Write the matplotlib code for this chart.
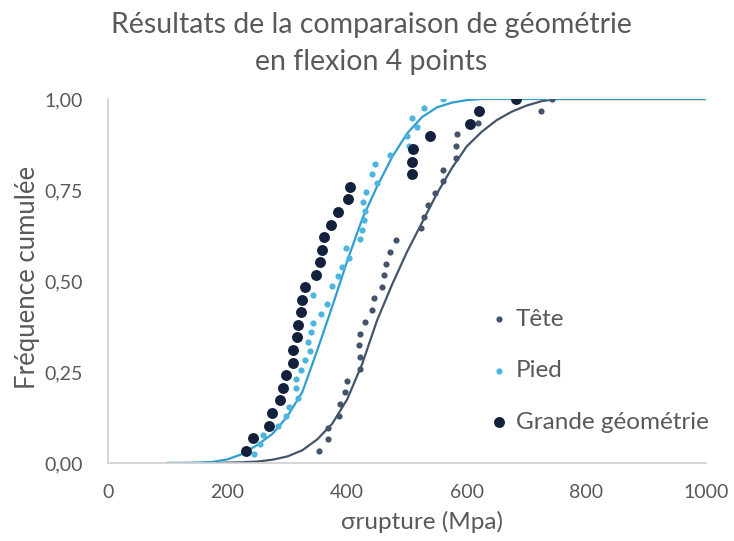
import matplotlib
matplotlib.use("Agg")
import matplotlib.pyplot as plt
from matplotlib.ticker import FuncFormatter

# --- data ---
# scatter points: rupture stress (MPa) vs cumulative frequency
tete_sigma = [353, 368, 368, 386, 388, 397, 400, 421, 421, 420, 422, 429, 441,
              445, 458, 461, 465, 471, 482, 523, 529, 535, 547, 561, 561, 582,
              582, 584, 618, 724, 742]
tete_freq = [0.032, 0.065, 0.097, 0.129, 0.161, 0.194, 0.226, 0.258, 0.290,
             0.323, 0.355, 0.387, 0.419, 0.452, 0.484, 0.516, 0.548, 0.581,
             0.613, 0.645, 0.677, 0.710, 0.742, 0.774, 0.806, 0.839, 0.871,
             0.903, 0.935, 0.968, 1.000]

pied_sigma = [244, 254, 260, 284, 297, 302, 318, 315, 315, 322, 329, 337, 334,
              340, 342, 356, 366, 343, 375, 384, 392, 403, 398, 421, 425, 428,
              429, 427, 432, 450, 441, 447, 471, 503, 500, 516, 509, 529, 561]
pied_freq = [0.026, 0.051, 0.077, 0.103, 0.128, 0.154, 0.179, 0.205, 0.231,
             0.256, 0.282, 0.308, 0.333, 0.359, 0.385, 0.410, 0.436, 0.462,
             0.487, 0.513, 0.538, 0.564, 0.590, 0.615, 0.641, 0.667, 0.692,
             0.718, 0.744, 0.769, 0.795, 0.821, 0.846, 0.872, 0.897, 0.923,
             0.949, 0.974, 1.000]

grande_sigma = [231, 243, 270, 275, 287, 292, 298, 309, 309, 316, 318, 323,
                324, 330, 348, 354, 358, 362, 373, 384, 401, 404, 508, 508,
                510, 538, 605, 620, 682]
grande_freq = [0.034, 0.069, 0.103, 0.138, 0.172, 0.207, 0.241, 0.276, 0.310,
               0.345, 0.379, 0.414, 0.448, 0.483, 0.517, 0.552, 0.586, 0.621,
               0.655, 0.690, 0.724, 0.759, 0.793, 0.828, 0.862, 0.897, 0.931,
               0.966, 1.000]

# fitted curves (read at 25 MPa steps)
pied_fit_sigma = [100, 125, 150, 175, 200, 225, 250, 275, 300, 325, 350, 375,
                  400, 425, 450, 475, 500, 525, 550, 575, 600, 625, 1000]
pied_fit_freq = [0.000, 0.000, 0.001, 0.003, 0.010, 0.025, 0.050, 0.080, 0.128,
                 0.195, 0.310, 0.430, 0.555, 0.670, 0.760, 0.840, 0.905, 0.950,
                 0.977, 0.990, 0.997, 1.000, 1.000]

tete_fit_sigma = [100, 125, 150, 175, 200, 225, 250, 275, 300, 325, 350, 375,
                  400, 425, 450, 475, 500, 525, 550, 575, 600, 625, 650, 675,
                  700, 725, 750, 1000]
tete_fit_freq = [0.000, 0.000, 0.000, 0.000, 0.001, 0.002, 0.004, 0.009, 0.018,
                 0.035, 0.065, 0.108, 0.175, 0.272, 0.392, 0.490, 0.580, 0.660,
                 0.740, 0.810, 0.870, 0.910, 0.942, 0.965, 0.982, 0.994, 1.000,
                 1.000]

x_ticks = [0, 200, 400, 600, 800, 1000]
y_ticks = [0.0, 0.25, 0.5, 0.75, 1.0]

# --- style ---
FONT = "Lato"
TEXT_GREY = "#595959"
TETE_COLOR = "#44546A"
PIED_COLOR = "#4BB5DE"
PIED_LINE = "#2F9FCF"
GRANDE_COLOR = "#14213D"

plt.rcParams["font.family"] = [FONT, "DejaVu Sans"]

fig = plt.figure(figsize=(7.34, 5.41), dpi=100)
ax = fig.add_axes([108 / 734, 78 / 541, 598 / 734, 364 / 541])

ax.plot(tete_fit_sigma, tete_fit_freq, color=TETE_COLOR, linewidth=1.6, zorder=2)
ax.plot(pied_fit_sigma, pied_fit_freq, color=PIED_LINE, linewidth=1.6, zorder=2)

ax.scatter(tete_sigma, tete_freq, s=20, color=TETE_COLOR, linewidths=0,
           label="Tête", zorder=3)
ax.scatter(pied_sigma, pied_freq, s=20, color=PIED_COLOR, linewidths=0,
           label="Pied", zorder=3)
ax.scatter(grande_sigma, grande_freq, s=62, color=GRANDE_COLOR, linewidths=0,
           label="Grande géométrie", zorder=4)

ax.set_xlim(0, 1000)
ax.set_ylim(0, 1.0)
ax.set_xticks(x_ticks)
ax.set_yticks(y_ticks)
ax.yaxis.set_major_formatter(FuncFormatter(lambda v, _: f"{v:.2f}".replace(".", ",")))
ax.tick_params(length=0, labelsize=14, labelcolor=TEXT_GREY)
ax.tick_params(axis="x", pad=15)
ax.tick_params(axis="y", pad=18)

for side in ("top", "right"):
    ax.spines[side].set_visible(False)
for side in ("left", "bottom"):
    ax.spines[side].set_color("#D0D0D0")
    ax.spines[side].set_linewidth(1.2)

fig.text(28 / 734, 1 - 277 / 541, "Fréquence cumulée", rotation=90,
         ha="center", va="center", fontsize=18.5, color=TEXT_GREY)
fig.text(422 / 734, 1 - 522 / 541, "σrupture (Mpa)", ha="center", va="center",
         fontsize=17.5, color=TEXT_GREY)
fig.text(371 / 734, 1 - 25 / 541, "Résultats de la comparaison de géométrie",
         ha="center", va="center", fontsize=20.5, color=TEXT_GREY)
fig.text(371 / 734, 1 - 62 / 541, "en flexion 4 points",
         ha="center", va="center", fontsize=20.5, color=TEXT_GREY)

leg = ax.legend(loc="upper left", bbox_to_anchor=(0.617, 1 - 200 / 364),
                frameon=False, fontsize=17.5, labelcolor=TEXT_GREY,
                handletextpad=0.2, labelspacing=1.25, handlelength=1.0,
                borderaxespad=0)

fig.savefig("out.png", dpi=100)
